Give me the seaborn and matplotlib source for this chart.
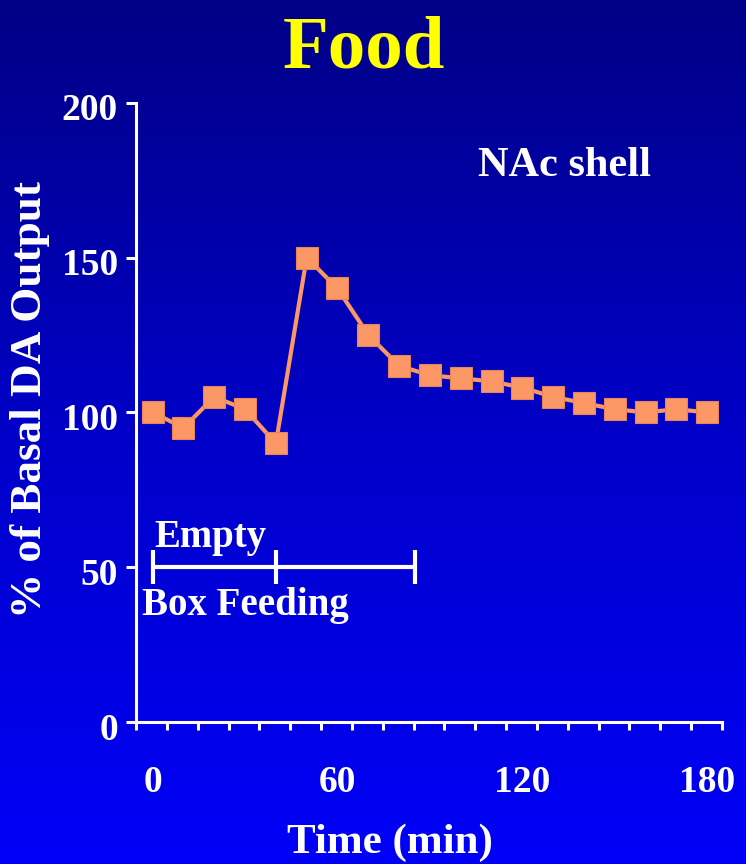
import numpy as np
import pandas as pd
import matplotlib
matplotlib.use("Agg")
import matplotlib.pyplot as plt
import matplotlib.transforms as mtransforms
from matplotlib.colors import LinearSegmentedColormap
import seaborn as sns

# Dopamine output in NAc shell, sampled every 10 min
time_min = [0, 10, 20, 30, 40, 50, 60, 70, 80, 90, 100, 110, 120, 130, 140, 150, 160, 170, 180]
da_output = [100, 95, 105, 101, 90, 150, 140, 125, 115, 112, 111, 110, 108, 105, 103, 101, 100, 101, 100]

y_ticks = [0, 50, 100, 150, 200]
x_tick_labels = [0, 60, 120, 180]

# Experimental phases: empty box, then feeding
phase_edges = [0, 40, 85]
phase_level = 50

sns.set_style("white")
plt.rcParams["font.family"] = ["Liberation Serif", "DejaVu Serif"]
plt.rcParams["font.weight"] = "bold"

W, H = 746, 864
fig = plt.figure(figsize=(W / 100, H / 100), dpi=100)

# Vertical blue gradient background
bg = fig.add_axes([0, 0, 1, 1], zorder=0)
grad = np.linspace(0, 1, 256).reshape(-1, 1)
cmap = LinearSegmentedColormap.from_list("bg", ["#000086", "#0000C8", "#0000F8"])
bg.imshow(grad, aspect="auto", cmap=cmap, extent=[0, 1, 0, 1], origin="upper")
bg.set_axis_off()

x0_px, x1_px = 136, 722
y0_px, y1_px = 722, 102.7
ax = fig.add_axes([x0_px / W, (H - y0_px) / H, (x1_px - x0_px) / W, (y0_px - y1_px) / H], zorder=1)
ax.patch.set_alpha(0)

orange = "#FB9866"
df = pd.DataFrame({"Time": time_min, "DA": da_output})
sns.lineplot(data=df, x="Time", y="DA", ax=ax, color=orange, linewidth=3,
             marker="s", markersize=16, markeredgecolor="#E8845A", markeredgewidth=0.8,
             zorder=3)

xmin, xmax = -5.4, 184.8
ax.set_xlim(xmin, xmax)
ax.set_ylim(0, 200)

for side in ["top", "right"]:
    ax.spines[side].set_visible(False)
for side in ["left", "bottom"]:
    ax.spines[side].set_color("white")
    ax.spines[side].set_linewidth(2.2)

ax.set_yticks(y_ticks)
ax.set_xticks(x_tick_labels)
ax.set_xticks(np.linspace(xmin, xmax, 20), minor=True)
ax.tick_params(which="both", bottom=True, left=True, top=False, right=False)
ax.tick_params(axis="x", which="major", length=0, pad=31, labelsize=27, colors="white")
ax.tick_params(axis="x", which="minor", length=6, width=2.2, color="white", direction="out")
ax.tick_params(axis="y", which="major", length=7, width=2.2, colors="white",
               labelsize=27, pad=6, direction="out")
for lab in ax.get_yticklabels():
    lab.set_transform(lab.get_transform() + mtransforms.ScaledTranslation(0, -4 / 100, fig.dpi_scale_trans))
for lab in ax.get_xticklabels() + ax.get_yticklabels():
    lab.set_fontweight("bold")
ax.set_xlabel("")
ax.set_ylabel("")

# Phase bracket
ax.hlines(phase_level, phase_edges[0], phase_edges[-1], color="white", linewidth=3, zorder=2)
ax.vlines(phase_edges, phase_level - 5.5, phase_level + 5.5, color="white", linewidth=3, zorder=2)
ax.text(18.6, 59.5, "Empty", color="white", fontsize=28, fontweight="bold",
        ha="center", va="center")
ax.text(30, 37.5, "Box Feeding", color="white", fontsize=28, fontweight="bold",
        ha="center", va="center")

ax.text(133.7, 179.5, "NAc shell", color="white", fontsize=30.5, fontweight="bold",
        ha="center", va="center")

fig.text(364 / W, (H - 68) / H, "Food", color="#FFFF00", fontsize=54,
         fontweight="bold", ha="center", va="baseline")
fig.text(30 / W, (H - 400) / H, "% of Basal DA Output", color="white", fontsize=32.5,
         fontweight="bold", rotation=90, ha="center", va="center")
fig.text(390 / W, (H - 853) / H, "Time (min)", color="white", fontsize=31,
         fontweight="bold", ha="center", va="baseline")

fig.savefig("out.png", dpi=100)
